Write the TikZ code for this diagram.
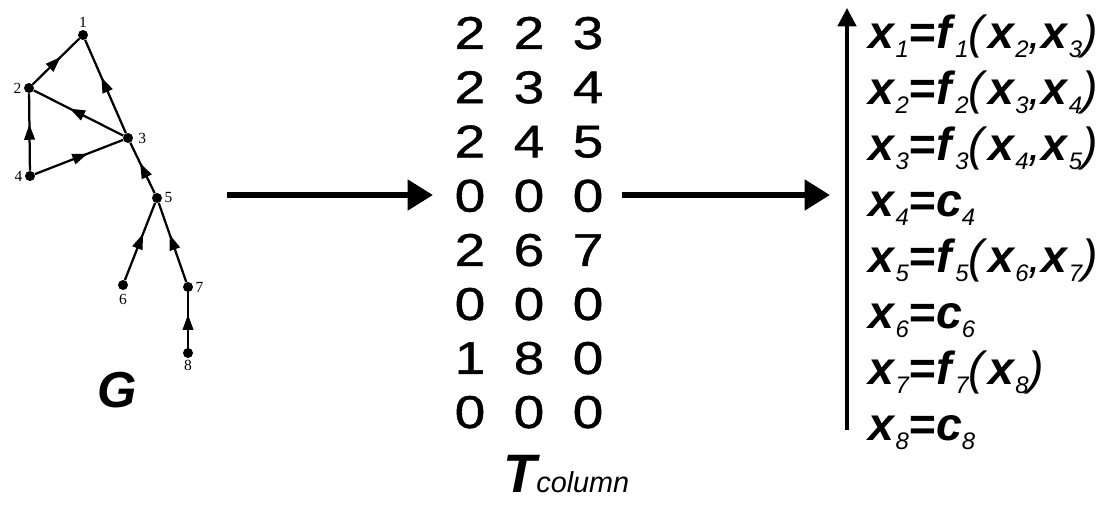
\documentclass[tikz,border=0pt]{standalone}
\usepackage{fontspec}
\setmainfont{Liberation Sans}
\newfontfamily\tagfont{Liberation Serif}
\newfontfamily\tablefont[FakeStretch=1.2,FakeBold=1]{Liberation Sans}
\usetikzlibrary{arrows.meta,matrix,decorations.markings}

% subscripts sit low and small, as in the equation list
\newcommand{\lowsub}[1]{\raisebox{-7pt}{\fontsize{17}{17}\selectfont\itshape #1}}
\newcommand{\xsub}[1]{\textbf{\textit{x}}\lowsub{#1}}
\newcommand{\fsub}[1]{\textbf{\textit{f}}\lowsub{#1}}
\newcommand{\csub}[1]{\textbf{\textit{c}}\lowsub{#1}}
\newcommand{\eqsign}{\textbf{\textit{=}}}

\tikzset{
  dot/.style={circle,fill,inner sep=0pt,minimum size=0.25cm},
  tag/.style={font=\tagfont\fontsize{11}{11}\selectfont,inner sep=1.5pt},
  dep/.style={line width=1.6pt,
    decoration={markings,mark=at position 0.6 with {\arrow{Triangle[length=11pt,width=7.5pt]}}},
    postaction={decorate}},
  bigarrow/.style={line width=4.3pt,-{Triangle[length=18pt,width=21pt]}},
  axisarrow/.style={line width=2.6pt,-{Triangle[length=13pt,width=13pt]}},
  eq/.style={anchor=base west,inner sep=0pt,font=\fontsize{33}{33}\selectfont},
}

\begin{document}
\begin{tikzpicture}[x=0.025cm,y=-0.025cm]
  \useasboundingbox (0,0) rectangle (1105,509);

  % dependency graph
  \node[dot,label={[tag,label distance=0pt]above:1}] (n1) at (83,35) {};
  \node[dot,label={[tag,label distance=0pt]left:2}]  (n2) at (29,88) {};
  \node[dot,label={[tag,label distance=2pt]right:3}] (n3) at (128,138) {};
  \node[dot,label={[tag,label distance=0pt]left:4}]  (n4) at (30,176) {};
  \node[dot,label={[tag,label distance=0pt]right:5}] (n5) at (157,198) {};
  \node[dot,label={[tag,label distance=1pt]below:6}] (n6) at (123,285) {};
  \node[dot,label={[tag,label distance=0pt]right:7}] (n7) at (188,287) {};
  \node[dot,label={[tag,label distance=0pt]below:8}] (n8) at (188,353) {};

  \draw[dep] (n2) -- (n1);
  \draw[dep] (n3) -- (n1);
  \draw[dep] (n3) -- (n2);
  \draw[dep] (n4) -- (n2);
  \draw[dep] (n4) -- (n3);
  \draw[dep] (n5) -- (n3);
  \draw[dep] (n6) -- (n5);
  \draw[dep] (n7) -- (n5);
  \draw[dep] (n8) -- (n7);

  \node[anchor=base,inner sep=0pt,font=\fontsize{36}{36}\selectfont\bfseries\itshape] (gname) at (117,407) {G};

  % column table
  \matrix (tcol) at (529,222.5) [matrix of nodes,
    nodes={font=\tablefont\fontsize{32.6}{33}\selectfont,minimum width=1.475cm,minimum height=1.35cm,inner sep=0pt},
    row sep=0pt,column sep=0pt]
  {
    2 & 2 & 3 \\
    2 & 3 & 4 \\
    2 & 4 & 5 \\
    0 & 0 & 0 \\
    2 & 6 & 7 \\
    0 & 0 & 0 \\
    1 & 8 & 0 \\
    0 & 0 & 0 \\
  };
  \node[anchor=base west,inner sep=0pt] (tname) at (503,492)
    {\fontsize{38.5}{39}\selectfont\bfseries\itshape T\fontsize{20.5}{21}\selectfont\mdseries column};

  % arrows between the three parts
  \coordinate (g-out) at (227,195);
  \coordinate (t-in) at (433,195);
  \coordinate (t-out) at (622,195);
  \coordinate (e-in) at (830,195);
  \draw[bigarrow] (g-out) -- (t-in);
  \draw[bigarrow] (t-out) -- (e-in);

  % evaluation order
  \coordinate (ax-lo) at (847,430);
  \coordinate (ax-hi) at (847,8);
  \draw[axisarrow] (ax-lo) -- (ax-hi);

  \node[eq] (eq1) at (868,48)  {\xsub{1}\eqsign\fsub{1}\textit{(}\xsub{2}\textit{,}\xsub{3}\textit{)}};
  \node[eq] (eq2) at (868,104) {\xsub{2}\eqsign\fsub{2}\textit{(}\xsub{3}\textit{,}\xsub{4}\textit{)}};
  \node[eq] (eq3) at (868,160) {\xsub{3}\eqsign\fsub{3}\textit{(}\xsub{4}\textit{,}\xsub{5}\textit{)}};
  \node[eq] (eq4) at (868,216) {\xsub{4}\eqsign\csub{4}};
  \node[eq] (eq5) at (868,272) {\xsub{5}\eqsign\fsub{5}\textit{(}\xsub{6}\textit{,}\xsub{7}\textit{)}};
  \node[eq] (eq6) at (868,328) {\xsub{6}\eqsign\csub{6}};
  \node[eq] (eq7) at (868,384) {\xsub{7}\eqsign\fsub{7}\textit{(}\xsub{8}\textit{)}};
  \node[eq] (eq8) at (868,440) {\xsub{8}\eqsign\csub{8}};
\end{tikzpicture}
\end{document}
